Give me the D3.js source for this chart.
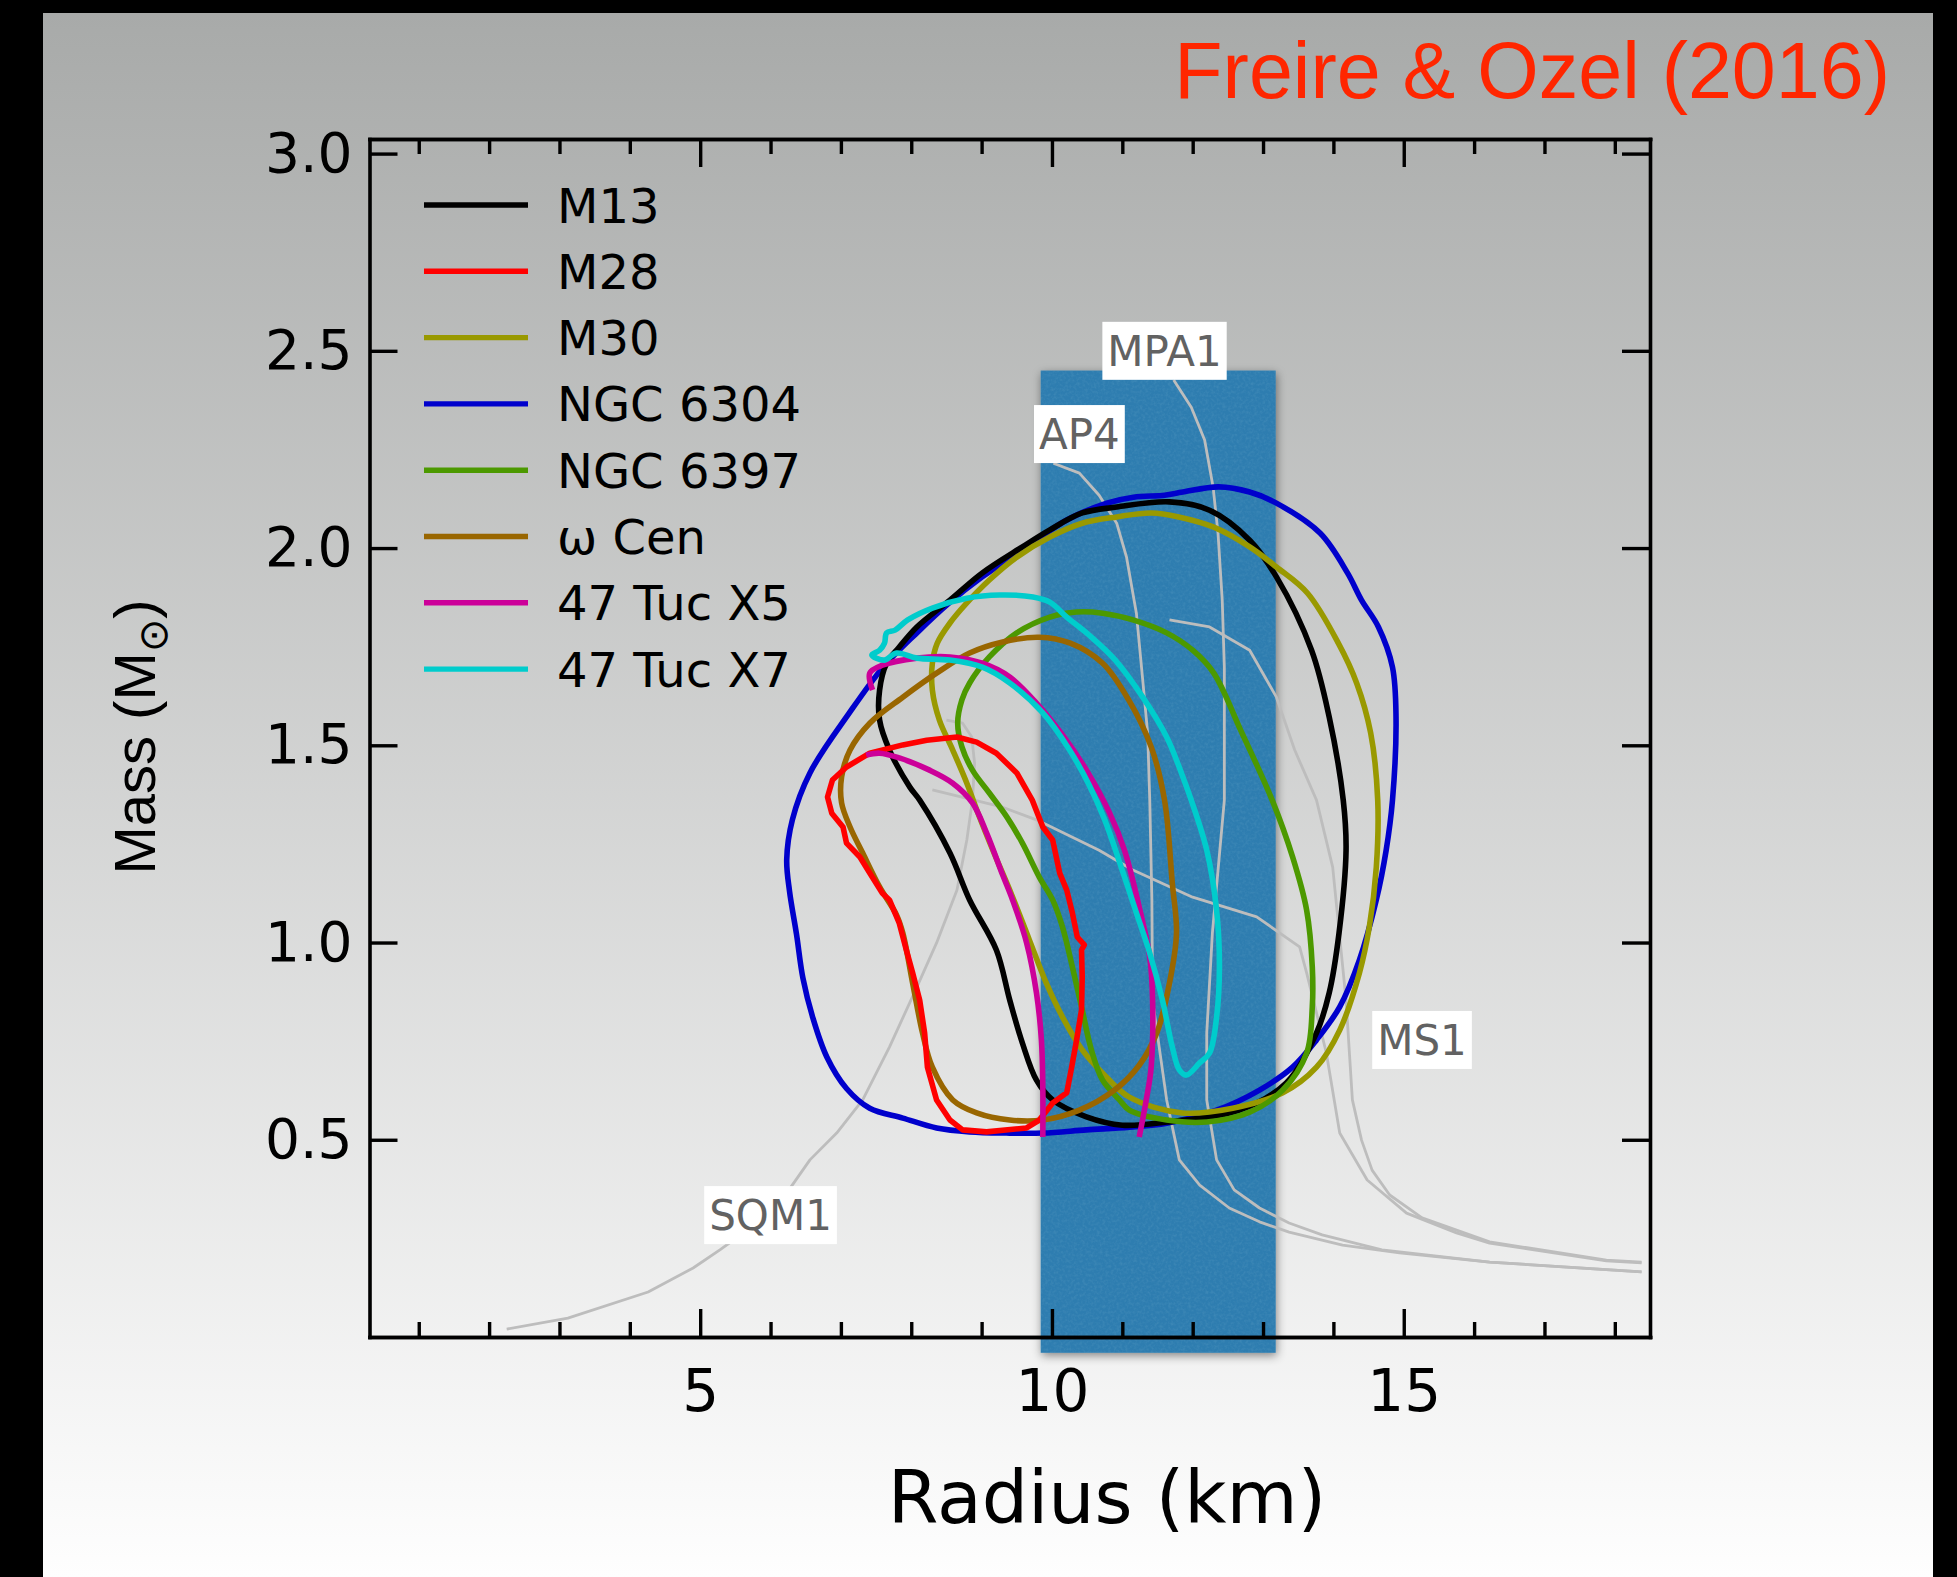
<!DOCTYPE html>
<html>
<head>
<meta charset="utf-8">
<script src="https://cdn.jsdelivr.net/npm/d3@7"></script>
<style>
  html, body { margin: 0; padding: 0; background: #000; overflow: hidden; }
  svg { display: block; }
</style>
</head>
<body>
<svg id="chart"></svg>
<script>
// ---- data (radius km, mass Msun) ----
const seriesNames = ['M13', 'M28', 'M30', 'NGC 6304', 'NGC 6397', 'ω Cen', '47 Tuc X5', '47 Tuc X7']
const seriesColors = ['#000000', '#ff0000', '#999900', '#0000cc', '#4c9900', '#996600', '#cc0099', '#00cccc']

const m13 = [[11.67,2.117],[10.92,2.104],[10.43,2.089],[9.97,2.046],[9.58,2.003],[9.01,1.937],[8.55,1.868],[8.08,1.80],[7.83,1.749],[7.65,1.708],[7.55,1.64],[7.55,1.564],[7.69,1.488],[7.98,1.394],[8.12,1.361],[8.55,1.227],[8.83,1.108],[9.21,0.981],[9.40,0.854],[9.58,0.745],[9.78,0.651],[10.01,0.601],[10.49,0.558],[11.00,0.537],[11.63,0.545],[12.66,0.575],[13.33,0.644],[13.76,0.771],[13.94,0.872],[14.08,1.024],[14.18,1.234],[14.14,1.361],[13.94,1.572],[13.69,1.741],[13.19,1.927],[12.81,2.02],[12.24,2.096]]
const m28 = [[6.88,1.412],[7.08,1.445],[7.41,1.48],[7.88,1.501],[8.22,1.513],[8.65,1.521],[8.93,1.508],[9.21,1.48],[9.50,1.43],[9.72,1.361],[9.87,1.293],[10.01,1.26],[10.11,1.176],[10.21,1.133],[10.29,1.075],[10.36,1.014],[10.46,0.994],[10.42,0.981],[10.43,0.913],[10.42,0.829],[10.35,0.753],[10.28,0.684],[10.21,0.619],[10.01,0.593],[9.82,0.55],[9.64,0.53],[9.07,0.52],[8.73,0.525],[8.55,0.55],[8.36,0.601],[8.23,0.684],[8.19,0.771],[8.12,0.854],[8.02,0.923],[7.93,0.981],[7.83,1.049],[7.69,1.108],[7.59,1.125],[7.41,1.176],[7.27,1.217],[7.08,1.252],[7.03,1.293],[6.87,1.328],[6.81,1.369]]
const m30 = [[11.41,2.089],[10.92,2.079],[10.43,2.063],[9.97,2.028],[9.50,1.977],[9.11,1.919],[8.79,1.861],[8.55,1.81],[8.37,1.759],[8.30,1.708],[8.30,1.64],[8.40,1.564],[8.59,1.488],[8.79,1.404],[8.97,1.318],[9.16,1.234],[9.43,1.12],[9.68,1.006],[9.92,0.897],[10.15,0.811],[10.43,0.728],[10.72,0.669],[11.10,0.608],[11.85,0.568],[12.57,0.58],[13.28,0.619],[13.76,0.684],[14.09,0.778],[14.37,0.923],[14.51,1.039],[14.61,1.191],[14.63,1.361],[14.53,1.531],[14.33,1.658],[14.07,1.759],[13.63,1.886],[13.19,1.952],[12.81,2.003],[12.30,2.053],[11.80,2.079]]
const ngc6304 = [[6.23,1.21],[6.27,1.13],[6.37,1.02],[6.46,0.91],[6.60,0.81],[6.80,0.71],[7.08,0.63],[7.41,0.58],[7.88,0.555],[8.36,0.53],[8.83,0.52],[9.35,0.517],[9.87,0.517],[10.49,0.525],[11.10,0.532],[11.63,0.542],[12.34,0.575],[12.95,0.626],[13.42,0.684],[13.76,0.753],[14.09,0.837],[14.37,0.956],[14.61,1.108],[14.75,1.234],[14.84,1.361],[14.89,1.572],[14.84,1.698],[14.64,1.80],[14.40,1.868],[14.20,1.937],[13.81,2.038],[13.19,2.114],[12.81,2.142],[12.37,2.155],[11.86,2.142],[11.60,2.134],[11.16,2.129],[10.78,2.114],[10.21,2.071],[9.64,2.003],[9.01,1.927],[8.54,1.861],[8.08,1.785],[7.60,1.698],[7.12,1.582],[6.56,1.43],[6.31,1.311]]
const ngc6397 = [[10.35,1.838],[10.72,1.835],[11.15,1.818],[11.63,1.785],[12.00,1.741],[12.30,1.683],[12.68,1.539],[13.13,1.361],[13.42,1.217],[13.62,1.082],[13.70,0.938],[13.70,0.837],[13.62,0.72],[13.28,0.626],[12.81,0.57],[12.20,0.545],[11.63,0.55],[11.10,0.575],[10.96,0.601],[10.72,0.651],[10.56,0.728],[10.43,0.829],[10.29,0.938],[10.15,1.039],[10.01,1.108],[9.82,1.166],[9.58,1.252],[9.36,1.318],[9.11,1.379],[8.87,1.437],[8.72,1.496],[8.66,1.556],[8.72,1.615],[8.83,1.658],[9.11,1.724],[9.50,1.785],[9.97,1.825]]
const omegaCen = [[7.88,1.024],[7.79,1.07],[7.55,1.141],[7.31,1.227],[7.13,1.293],[7.01,1.354],[7.01,1.42],[7.13,1.488],[7.41,1.556],[7.88,1.622],[8.36,1.683],[8.83,1.734],[9.30,1.762],[9.82,1.774],[10.26,1.759],[10.72,1.708],[11.09,1.615],[11.41,1.496],[11.60,1.361],[11.71,1.151],[11.77,1.024],[11.67,0.897],[11.49,0.771],[11.24,0.689],[10.89,0.626],[10.39,0.575],[9.87,0.55],[9.40,0.55],[8.93,0.568],[8.59,0.601],[8.30,0.684],[8.16,0.771],[8.02,0.897]]
// 47 Tuc X5 is open: two arms
const x5Upper = [[7.45,1.64],[7.41,1.683],[7.59,1.703],[8.08,1.721],[8.55,1.724],[9.01,1.708],[9.40,1.673],[9.78,1.607],[10.15,1.526],[10.49,1.437],[10.82,1.328],[11.03,1.234],[11.24,1.09],[11.39,0.963],[11.43,0.854],[11.41,0.684],[11.34,0.601],[11.24,0.507]]
const x5Lower = [[7.36,1.475],[7.55,1.48],[7.83,1.468],[8.26,1.437],[8.59,1.404],[8.87,1.354],[9.07,1.278],[9.30,1.171],[9.44,1.108],[9.64,0.999],[9.78,0.872],[9.85,0.753],[9.87,0.634],[9.87,0.507]]
const tuc47X7 = [[7.79,1.734],[7.62,1.716],[7.44,1.729],[7.55,1.741],[7.62,1.759],[7.65,1.785],[7.77,1.792],[7.95,1.818],[8.30,1.848],[8.79,1.873],[9.26,1.881],[9.73,1.876],[9.97,1.863],[10.21,1.825],[10.53,1.779],[10.90,1.716],[11.29,1.622],[11.63,1.521],[11.85,1.425],[11.98,1.361],[12.20,1.234],[12.34,1.082],[12.38,0.938],[12.34,0.811],[12.24,0.72],[12.10,0.695],[11.91,0.664],[11.81,0.677],[11.71,0.735],[11.57,0.854],[11.39,0.973],[11.20,1.075],[10.96,1.204],[10.75,1.311],[10.53,1.399],[10.25,1.488],[9.87,1.582],[9.40,1.658],[9.01,1.698],[8.55,1.716],[8.08,1.721]]

// equation-of-state tracks (gray)
const sqm1 = [[2.25,0.02],[3.12,0.048],[4.26,0.114],[4.90,0.175],[5.28,0.221],[6.05,0.319],[6.56,0.449],[6.94,0.517],[7.31,0.601],[7.69,0.735],[8.08,0.887],[8.36,0.999],[8.65,1.133],[8.79,1.26],[8.87,1.361],[8.90,1.455],[8.86,1.521],[8.73,1.556],[8.50,1.564]]
const ap4 = [[10.02,2.215],[10.39,2.19],[10.67,2.134],[10.92,2.063],[11.06,1.977],[11.20,1.835],[11.29,1.665],[11.36,1.531],[11.39,1.361],[11.42,1.108],[11.43,0.854],[11.63,0.601],[11.81,0.449],[12.10,0.385],[12.52,0.327],[12.95,0.292],[13.37,0.266],[14.13,0.233],[14.94,0.213],[16.22,0.19],[18.38,0.165]]
const mpa1 = [[11.73,2.426],[11.98,2.357],[12.17,2.274],[12.29,2.155],[12.36,2.038],[12.42,1.868],[12.45,1.698],[12.45,1.361],[12.28,1.024],[12.20,0.771],[12.20,0.601],[12.34,0.449],[12.59,0.373],[12.95,0.327],[13.37,0.289],[13.84,0.259],[14.69,0.221],[16.22,0.19],[18.38,0.165]]
const ms1 = [[11.67,1.818],[12.24,1.80],[12.81,1.741],[13.19,1.622],[13.45,1.488],[13.76,1.361],[13.99,1.191],[14.18,0.854],[14.27,0.601],[14.40,0.499],[14.55,0.423],[14.80,0.36],[15.26,0.302],[16.22,0.241],[17.88,0.195],[18.38,0.19]]
const eos5 = [[8.30,1.387],[9.30,1.343],[9.78,1.311],[10.67,1.234],[11.15,1.184],[12.00,1.115],[12.91,1.065],[13.52,0.989],[13.62,0.923],[13.90,0.72],[14.09,0.517],[14.48,0.398],[15.04,0.314],[15.75,0.264],[16.22,0.238],[17.88,0.193],[18.38,0.188]]

const eosLabels = ['MPA1', 'AP4', 'MS1', 'SQM1']
const eosLabelR = [11.6, 10.39, 15.26, 6.0]
const eosLabelM = [2.50, 2.289, 0.753, 0.309]

// shaded radius band
const bandR = [9.84, 13.18]
const bandM = [-0.04, 2.45]

const xDomain = [0.3, 18.5]
const yDomain = [0, 3.037]
const xMajorTicks = [5, 10, 15]
const xMinorTicks = [1, 2, 3, 4, 6, 7, 8, 9, 11, 12, 13, 14, 16, 17, 18]
const yTicks = [0.5, 1.0, 1.5, 2.0, 2.5, 3.0]

/*
* DRAWING
*/
const W = 1957
const H = 1577
const plot = { left: 369.5, right: 1650, top: 139, bottom: 1337 }

const svg = d3.select('#chart').attr('width', W).attr('height', H)

const defs = svg.append('defs')
const bg = defs.append('linearGradient').attr('id', 'bg')
  .attr('x1', 0).attr('y1', 0).attr('x2', 0).attr('y2', 1)
bg.append('stop').attr('offset', '0%').attr('stop-color', '#a8aaa9')
bg.append('stop').attr('offset', '100%').attr('stop-color', '#fefefe')

const shadow = defs.append('filter').attr('id', 'shadow')
  .attr('x', '-10%').attr('y', '-10%').attr('width', '120%').attr('height', '120%')
shadow.append('feDropShadow')
  .attr('dx', 1).attr('dy', 3).attr('stdDeviation', 5)
  .attr('flood-color', '#000').attr('flood-opacity', 0.45)

// light mottling on the band
const grain = defs.append('filter').attr('id', 'grain')
  .attr('x', 0).attr('y', 0).attr('width', '100%').attr('height', '100%')
grain.append('feTurbulence')
  .attr('type', 'fractalNoise').attr('baseFrequency', 0.35).attr('numOctaves', 2).attr('seed', 7)
  .attr('result', 'n')
grain.append('feColorMatrix')
  .attr('in', 'n').attr('type', 'matrix')
  .attr('values', '0 0 0 0 0.12  0 0 0 0 0.36  0 0 0 0 0.56  0.6 0 0 0 -0.25')
  .attr('result', 'c')
grain.append('feComposite').attr('in', 'c').attr('in2', 'SourceGraphic').attr('operator', 'in')

// page background
svg.append('rect').attr('width', W).attr('height', H).attr('fill', '#000')
svg.append('rect').attr('x', 43).attr('y', 13).attr('width', 1890).attr('height', H - 13)
  .attr('fill', 'url(#bg)')

const x = d3.scaleLinear().domain(xDomain).range([plot.left, plot.right])
const y = d3.scaleLinear().domain(yDomain).range([plot.bottom, plot.top])

// band
const band = svg.append('g')
band.append('rect')
  .attr('x', x(bandR[0])).attr('width', x(bandR[1]) - x(bandR[0]))
  .attr('y', y(bandM[1])).attr('height', y(bandM[0]) - y(bandM[1]))
  .attr('fill', '#2e7db0')
  .attr('filter', 'url(#shadow)')
band.append('rect')
  .attr('x', x(bandR[0])).attr('width', x(bandR[1]) - x(bandR[0]))
  .attr('y', y(bandM[1])).attr('height', y(bandM[0]) - y(bandM[1]))
  .attr('fill', '#fff')
  .attr('filter', 'url(#grain)')

// EOS tracks
const eosLine = d3.line().x(d => x(d[0])).y(d => y(d[1]))
svg.append('g')
  .selectAll('path')
  .data([sqm1, ap4, mpa1, ms1, eos5])
  .enter()
    .append('path')
    .attr('d', eosLine)
    .attr('fill', 'none')
    .attr('stroke', '#bdbdbd')
    .attr('stroke-width', 2.8)
    .attr('stroke-linejoin', 'round')

// EOS labels in white boxes
const labels = svg.append('g')
  .attr('font-family', 'DejaVu Sans, sans-serif')
  .attr('font-size', 42)
eosLabels.forEach((name, i) => {
  const cx = x(eosLabelR[i])
  const cy = y(eosLabelM[i])
  const box = labels.append('rect').attr('fill', '#ffffff')
  const t = labels.append('text')
    .attr('x', cx).attr('y', cy + 15)
    .attr('text-anchor', 'middle')
    .attr('fill', '#626262')
    .text(name)
  const w = t.node().getComputedTextLength() + 10
  box.attr('x', cx - w / 2).attr('y', cy - 29).attr('width', w).attr('height', 58)
})

// contours
const contourData = [m13, m28, m30, ngc6304, ngc6397, omegaCen, [x5Upper, x5Lower], tuc47X7]
const drawOrder = [3, 0, 2, 4, 5, 1, 6, 7]
const smoothClosed = d3.line().x(d => x(d[0])).y(d => y(d[1])).curve(d3.curveCatmullRomClosed.alpha(0.5))
const jaggedClosed = d3.line().x(d => x(d[0])).y(d => y(d[1])).curve(d3.curveLinearClosed)
const smoothOpen = d3.line().x(d => x(d[0])).y(d => y(d[1])).curve(d3.curveCatmullRom.alpha(0.5))

const contours = svg.append('g')
  .attr('fill', 'none')
  .attr('stroke-width', 5.6)
  .attr('stroke-linejoin', 'round')
  .attr('stroke-linecap', 'butt')

drawOrder.forEach(i => {
  const color = seriesColors[i]
  if (i === 6) {
    contourData[i].forEach(arm => {
      contours.append('path').attr('d', smoothOpen(arm)).attr('stroke', color)
    })
  } else {
    const gen = i === 1 ? jaggedClosed : smoothClosed
    contours.append('path').attr('d', gen(contourData[i])).attr('stroke', color)
  }
})

// axes: inward ticks on all four sides
const tickFont = 'DejaVu Sans, sans-serif'
function styleAxis(g, fontSize) {
  g.attr('font-family', tickFont).attr('font-size', fontSize)
  g.select('.domain').attr('stroke-width', 3.6).attr('stroke-linecap', 'square')
  g.selectAll('.tick line').attr('stroke-width', 3.4)
  g.selectAll('.tick text').attr('fill', '#000')
}

svg.append('g')
  .attr('transform', `translate(0,${plot.bottom})`)
  .call(d3.axisBottom(x).tickValues(xMajorTicks).tickSize(-28).tickSizeOuter(0).tickPadding(33))
  .call(g => styleAxis(g, 58))
svg.append('g')
  .attr('transform', `translate(0,${plot.bottom})`)
  .call(d3.axisBottom(x).tickValues(xMinorTicks).tickSize(-15).tickSizeOuter(0).tickFormat(''))
  .call(g => styleAxis(g, 10))

svg.append('g')
  .attr('transform', `translate(0,${plot.top})`)
  .call(d3.axisTop(x).tickValues(xMajorTicks).tickSize(-28).tickSizeOuter(0).tickFormat(''))
  .call(g => styleAxis(g, 10))
svg.append('g')
  .attr('transform', `translate(0,${plot.top})`)
  .call(d3.axisTop(x).tickValues(xMinorTicks).tickSize(-15).tickSizeOuter(0).tickFormat(''))
  .call(g => styleAxis(g, 10))

svg.append('g')
  .attr('transform', `translate(${plot.left},0)`)
  .call(d3.axisLeft(y).tickValues(yTicks).tickSize(-28).tickSizeOuter(0).tickPadding(17).tickFormat(d3.format('.1f')))
  .call(g => styleAxis(g, 55))
svg.append('g')
  .attr('transform', `translate(${plot.right},0)`)
  .call(d3.axisRight(y).tickValues(yTicks).tickSize(-28).tickSizeOuter(0).tickFormat(''))
  .call(g => styleAxis(g, 10))

// legend
const legend = svg.append('g')
  .attr('font-family', 'DejaVu Sans, sans-serif')
  .attr('font-size', 48)
seriesNames.forEach((name, i) => {
  const ly = 205 + i * 66.3
  legend.append('line')
    .attr('x1', 424).attr('x2', 528).attr('y1', ly).attr('y2', ly)
    .attr('stroke', seriesColors[i]).attr('stroke-width', 5.4)
  legend.append('text')
    .attr('x', 557).attr('y', ly + 17.5)
    .attr('fill', '#000')
    .text(name)
})

// titles
svg.append('text')
  .attr('x', 1890).attr('y', 98)
  .attr('text-anchor', 'end')
  .attr('font-family', 'Liberation Sans, Arial, sans-serif')
  .attr('font-size', 79)
  .attr('fill', '#ff2600')
  .text('Freire & Ozel (2016)')

svg.append('text')
  .attr('x', 1107).attr('y', 1523)
  .attr('text-anchor', 'middle')
  .attr('font-family', 'DejaVu Sans, sans-serif')
  .attr('font-size', 73)
  .attr('fill', '#000')
  .text('Radius (km)')

const ylab = svg.append('text')
  .attr('transform', 'translate(155,737) rotate(-90)')
  .attr('text-anchor', 'middle')
  .attr('font-family', 'Liberation Sans, Arial, sans-serif')
  .attr('font-size', 58)
  .attr('fill', '#000')
ylab.append('tspan').text('Mass (M')
ylab.append('tspan')
  .attr('font-family', 'DejaVu Sans, sans-serif')
  .attr('font-size', 40)
  .attr('dy', 12)
  .text('⊙')
ylab.append('tspan').attr('dy', -12).text(')')
</script>
</body>
</html>
